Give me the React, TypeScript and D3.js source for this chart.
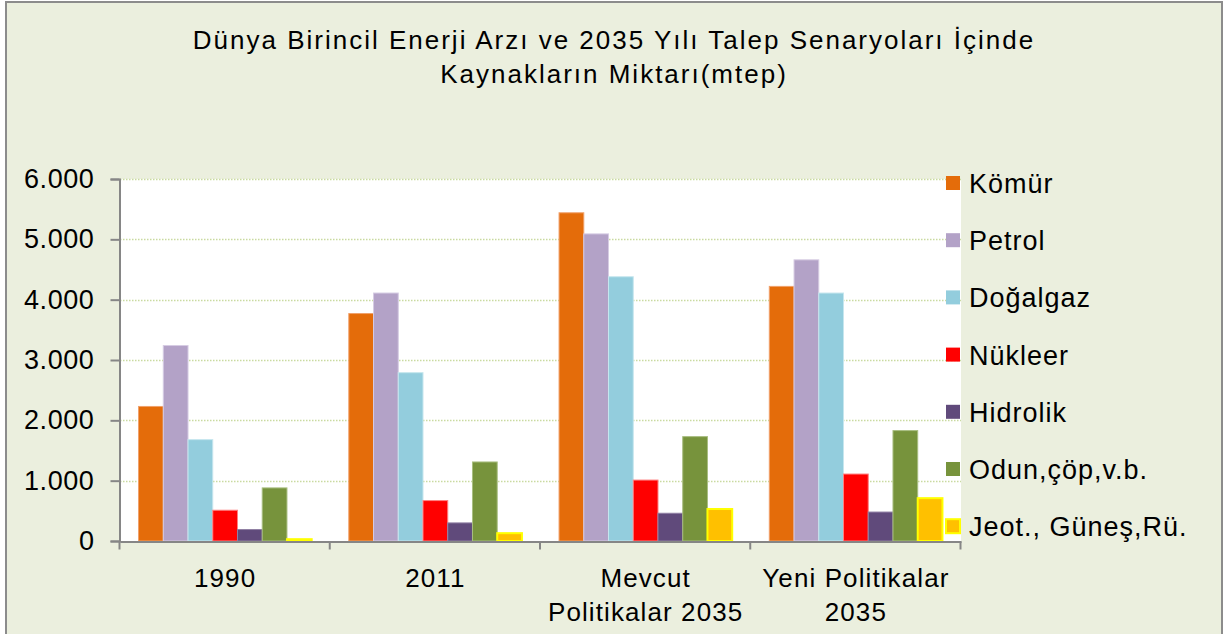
import React, { useEffect, useRef } from "react";
import * as d3 from "d3";

// categories and series, values in mtep
const categories = ["1990", "2011", "Mevcut Politikalar 2035", "Yeni Politikalar 2035"];
const categoryLines = [["1990"], ["2011"], ["Mevcut", "Politikalar 2035"], ["Yeni Politikalar", "2035"]];
const seriesNames = ["Kömür", "Petrol", "Doğalgaz", "Nükleer", "Hidrolik", "Odun,çöp,v.b.", "Jeot., Güneş,Rü."];
const komur = [2230, 3770, 5440, 4220];
const petrol = [3240, 4110, 5090, 4660];
const dogalgaz = [1680, 2790, 4380, 4110];
const nukleer = [510, 670, 1010, 1110];
const hidrolik = [190, 300, 460, 480];
const odun = [880, 1310, 1730, 1830];
const jeot = [30, 130, 530, 710];
const yTicks = [0, 1000, 2000, 3000, 4000, 5000, 6000];

const seriesValues = [komur, petrol, dogalgaz, nukleer, hidrolik, odun, jeot];
const colors = ["#E46C0A", "#B3A2C7", "#93CDDD", "#FF0000", "#604A7B", "#77933C", "#FFC000"];
const strokes = ["#F0A06A", "#D6CCE3", "#C6E6EE", "#FF8080", "#9080A4", "#A8BE80", "#FFFF00"];

const W = 1224;
const H = 634;
const plot = { left: 120, right: 961, top: 179, bottom: 541 };
const font = "Arial, 'Liberation Sans', sans-serif";

const App = () => {
  const svgRef = useRef<SVGSVGElement>(null);

  useEffect(() => {
    const svg = d3.select(svgRef.current);
    svg.selectAll("*").remove();

    // chart frame
    svg
      .append("rect")
      .attr("x", 6)
      .attr("y", 2)
      .attr("width", 1216)
      .attr("height", H + 10)
      .attr("fill", "#EBEFDE")
      .attr("stroke", "#8C8C8C")
      .attr("stroke-width", 2);

    // title
    const title = svg
      .append("text")
      .attr("text-anchor", "middle")
      .attr("font-family", font)
      .attr("font-size", 26)
      .attr("letter-spacing", 2)
      .attr("fill", "#000");
    title.append("tspan").attr("x", 614).attr("y", 49).text("Dünya Birincil Enerji Arzı ve 2035 Yılı Talep Senaryoları İçinde");
    title.append("tspan").attr("x", 614).attr("y", 83).text("Kaynakların  Miktarı(mtep)");

    // plot area
    svg
      .append("rect")
      .attr("x", plot.left)
      .attr("y", plot.top)
      .attr("width", plot.right - plot.left)
      .attr("height", plot.bottom - plot.top)
      .attr("fill", "#fff");

    const x = d3.scaleBand().domain(categories).range([plot.left, plot.right]).padding(0);
    const bw = x.bandwidth();
    const gap = bw / 8.5 * 1.5;
    const xs = d3.scaleBand().domain(seriesNames).range([gap / 2, bw - gap / 2]).padding(0);
    const y = d3.scaleLinear().domain([0, 6000]).range([plot.bottom, plot.top]);

    const loc = d3.formatLocale({ decimal: ",", thousands: ".", grouping: [3], currency: ["", ""] });
    const fmt = loc.format(",d");

    // gridlines
    svg
      .append("g")
      .selectAll("line")
      .data(yTicks.filter((t) => t > 0))
      .enter()
      .append("line")
      .attr("x1", plot.left)
      .attr("x2", plot.right)
      .attr("y1", (d) => Math.round(y(d)) + 0.5)
      .attr("y2", (d) => Math.round(y(d)) + 0.5)
      .attr("stroke", "#C9DAA0")
      .attr("stroke-width", 1.5)
      .attr("stroke-dasharray", "1.5,1.5");

    // bars
    seriesValues.forEach((vals, si) => {
      svg
        .append("g")
        .selectAll("rect")
        .data(vals)
        .enter()
        .append("rect")
        .attr("x", (d, i) => (x(categories[i]) as number) + (xs(seriesNames[si]) as number))
        .attr("y", (d) => y(d))
        .attr("width", xs.bandwidth())
        .attr("height", (d) => plot.bottom - y(d))
        .attr("fill", colors[si])
        .attr("stroke", strokes[si])
        .attr("stroke-width", si === 6 ? 2 : 1);
    });

    // y axis
    const yAxis = svg
      .append("g")
      .attr("transform", `translate(${plot.left - 0.5},0)`)
      .call(d3.axisLeft(y).tickValues(yTicks).tickSize(9).tickPadding(16).tickFormat((d) => fmt(d as number)));
    yAxis.select(".domain").attr("stroke", "#868686").attr("stroke-width", 2);
    yAxis.selectAll(".tick line").attr("stroke", "#868686").attr("stroke-width", 2);
    yAxis
      .selectAll(".tick text")
      .attr("font-family", font)
      .attr("font-size", 27)
      .attr("letter-spacing", 0.6)
      .attr("fill", "#000");

    // x axis
    const xAxis = svg
      .append("g")
      .attr("transform", `translate(0,${plot.bottom + 0.5})`)
      .call(d3.axisBottom(x).tickSize(0).tickFormat(() => ""));
    xAxis.select(".domain").attr("stroke", "#868686").attr("stroke-width", 2);
    const edges = categories.map((c) => x(c) as number).concat([plot.right]);
    xAxis
      .selectAll(".edge")
      .data(edges)
      .enter()
      .append("line")
      .attr("x1", (d) => d - 0.5)
      .attr("x2", (d) => d - 0.5)
      .attr("y1", 0)
      .attr("y2", 8)
      .attr("stroke", "#868686")
      .attr("stroke-width", 2);

    const lab = svg
      .append("g")
      .selectAll("text")
      .data(categories)
      .enter()
      .append("text")
      .attr("text-anchor", "middle")
      .attr("font-family", font)
      .attr("font-size", 26)
      .attr("letter-spacing", 1.1)
      .attr("fill", "#000");
    lab.each(function (c, i) {
      const t = d3.select(this);
      categoryLines[i].forEach((line, li) => {
        t.append("tspan")
          .attr("x", (x(c) as number) + bw / 2)
          .attr("y", 587 + li * 34)
          .text(line);
      });
    });

    // legend
    const lg = svg
      .append("g")
      .selectAll("g")
      .data(seriesNames)
      .enter()
      .append("g")
      .attr("transform", (d, i) => `translate(946,${183 + i * 57.2})`);
    lg.append("rect")
      .attr("x", 0)
      .attr("y", -7)
      .attr("width", 14)
      .attr("height", 14)
      .attr("fill", (d, i) => colors[i])
      .attr("stroke", (d, i) => (i === 6 ? "#FFFF00" : "none"))
      .attr("stroke-width", 2);
    lg.append("text")
      .attr("x", 23)
      .attr("y", 10)
      .attr("font-family", font)
      .attr("font-size", 27)
      .attr("letter-spacing", 1)
      .attr("fill", "#000")
      .text((d) => d);
  }, []);

  return (
    <div style={{ position: "absolute", left: 0, top: 0, width: W, height: H, overflow: "hidden", background: "#fff" }}>
      <svg ref={svgRef} width={W} height={H}></svg>
    </div>
  );
};

export default App;
